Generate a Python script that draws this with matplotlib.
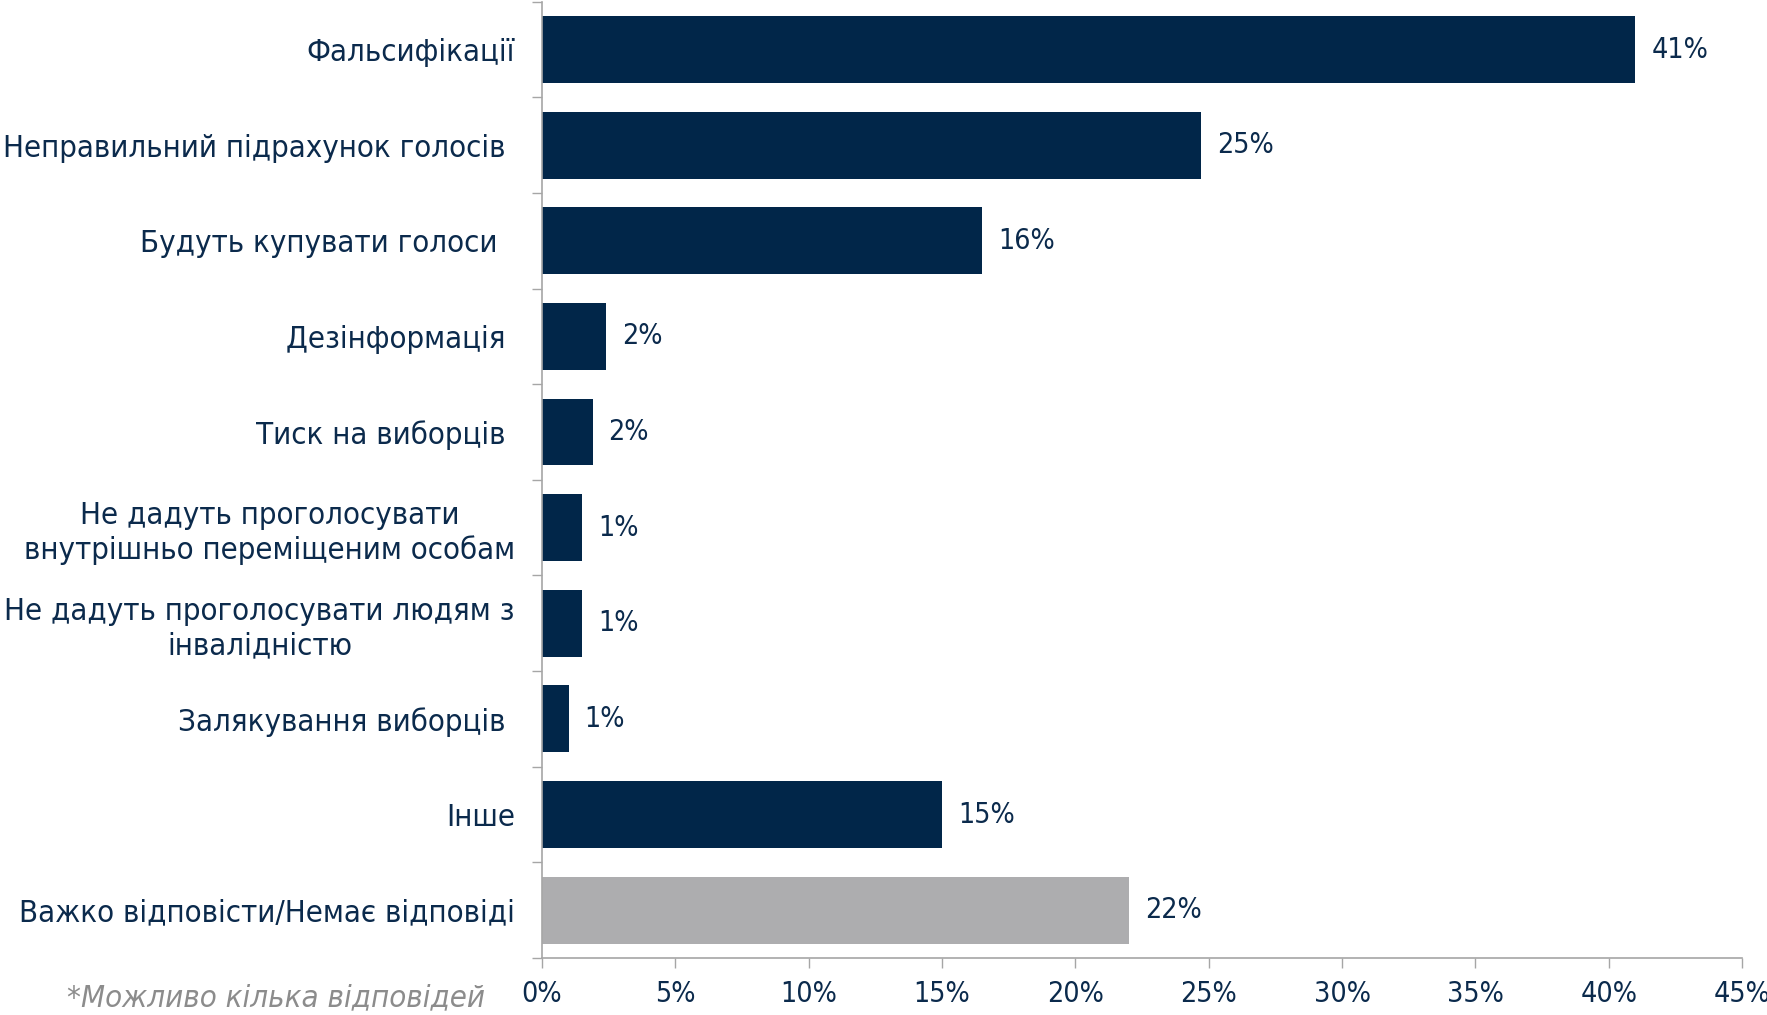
import matplotlib
matplotlib.use("Agg")
import matplotlib.pyplot as plt

plt.rcParams['font.family'] = ['DejaVu Sans']
plt.rcParams['font.stretch'] = 'condensed'

categories = [
    "Фальсифікації",
    "Неправильний підрахунок голосів ",
    "Будуть купувати голоси  ",
    "Дезінформація ",
    "Тиск на виборців ",
    "Не дадуть проголосувати\nвнутрішньо переміщеним особам",
    "Не дадуть проголосувати людям з\nінвалідністю",
    "Залякування виборців ",
    "Інше",
    "Важко відповісти/Немає відповіді",
]
values = [41.0, 24.7, 16.5, 2.4, 1.9, 1.5, 1.5, 1.0, 15.0, 22.0]
value_labels = ["41%", "25%", "16%", "2%", "2%", "1%", "1%", "1%", "15%", "22%"]
colors = ["#012649"] * 9 + ["#adadaf"]
xticks = [0, 5, 10, 15, 20, 25, 30, 35, 40, 45]
xtick_labels = [f"{t}%" for t in xticks]
footnote = "*Можливо кілька відповідей"

NAVY = "#0b2a4c"
GRID = "#a6a6a6"
FS = 22.3
FS_NUM = 20.5

fig = plt.figure(figsize=(17.67, 10.15), dpi=100)
ax = fig.add_axes([0.3067, 0.0562, 0.6792, 0.9421])

n = len(categories)
ypos = list(range(n))
ax.barh(ypos, values, height=0.7, color=colors, zorder=2)
ax.set_ylim(n - 0.5, -0.5)
ax.set_xlim(0, 45)

ax.set_yticks(ypos)
ax.set_yticklabels(categories, fontsize=FS, color=NAVY, multialignment='center')
ax.set_yticks([i - 0.5 for i in range(n + 1)], minor=True)
ax.tick_params(axis='y', which='major', length=0, pad=19.5)
ax.tick_params(axis='y', which='minor', length=7, width=1.0, color=GRID)

ax.set_xticks(xticks)
ax.set_xticklabels(xtick_labels, fontsize=FS_NUM, color=NAVY)
ax.tick_params(axis='x', which='major', length=7, width=1.0, color=GRID, pad=9)

for s in ['top', 'right']:
    ax.spines[s].set_visible(False)
for s in ['left', 'bottom']:
    ax.spines[s].set_color(GRID)
    ax.spines[s].set_linewidth(1.2)

for i, (v, t) in enumerate(zip(values, value_labels)):
    ax.annotate(t, (v, i), xytext=(16, 0), textcoords='offset pixels',
                va='center', ha='left', fontsize=FS_NUM, color=NAVY)

fig.text(485 / 1767, 1 - 998 / 1015, footnote, ha='right', va='center', fontsize=FS,
         style='italic', color="#8c8c8c")

fig.savefig("out.png", dpi=100)
